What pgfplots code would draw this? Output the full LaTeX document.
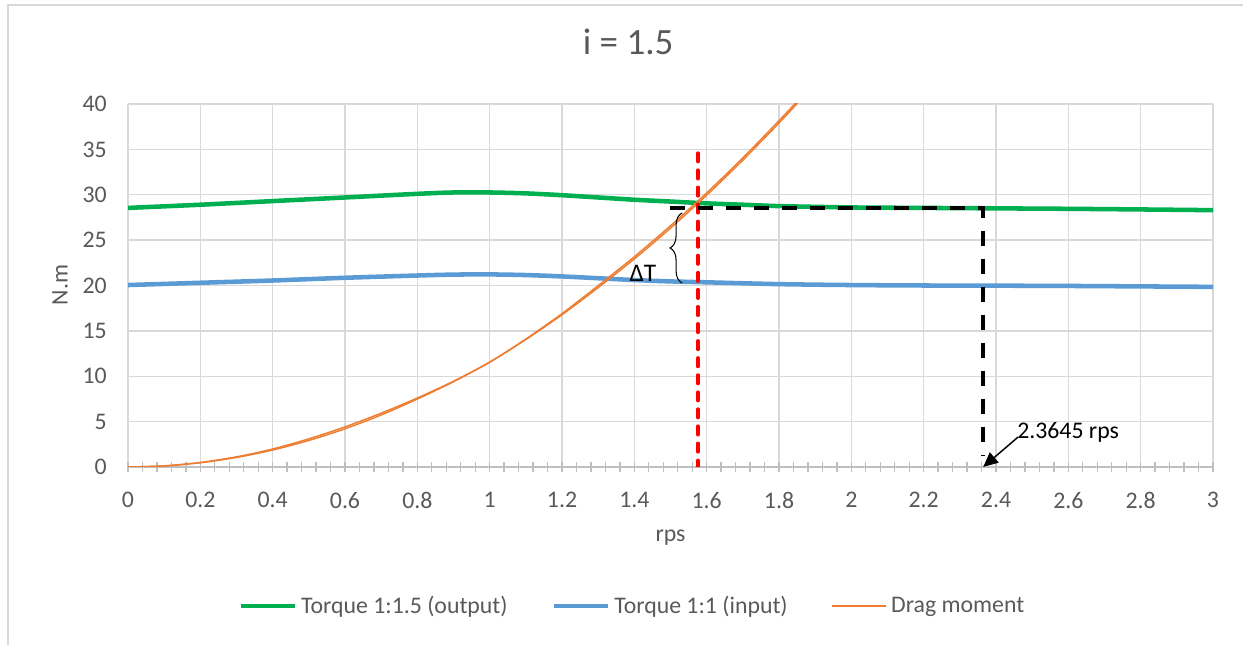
\documentclass[border=0pt]{standalone}
\usepackage{fontspec}
\setmainfont{Carlito}
\usepackage{pgfplots}
\pgfplotsset{compat=1.18}
\usetikzlibrary{arrows.meta,decorations.pathreplacing}
\definecolor{cgreen}{HTML}{00B050}
\definecolor{cblue}{HTML}{5B9BD5}
\definecolor{corange}{HTML}{ED7D31}
\definecolor{cgrid}{HTML}{D9D9D9}
\definecolor{caxis}{HTML}{BFBFBF}
\definecolor{ctext}{HTML}{595959}
\begin{document}
\begin{tikzpicture}
\path[use as bounding box] (0,0) rectangle (932.25pt,483.75pt);
\draw[cgrid, line width=1pt] (6pt,0pt) -- (6pt,480pt) -- (932.25pt,480pt);
\begin{axis}[
  at={(96pt,133.5pt)}, anchor=south west,
  scale only axis, width=813.75pt, height=272.25pt,
  xmin=0, xmax=3, ymin=0, ymax=40,
  axis x line*=bottom, axis y line*=left,
  x axis line style={draw=caxis, line width=1pt, -},
  y axis line style={draw=none, -},
  xtick={0,0.2,0.4,0.6,0.8,1,1.2,1.4,1.6,1.8,2,2.2,2.4,2.6,2.8,3},
  xticklabels={0,0.2,0.4,0.6,0.8,1,1.2,1.4,1.6,1.8,2,2.2,2.4,2.6,2.8,3},
  minor x tick num=4,
  ytick={0,5,10,15,20,25,30,35,40},
  grid=major,
  major grid style={draw=cgrid, line width=1.1pt},
  tick align=center,
  xtick style={draw=caxis, line width=1pt},
  major tick length=7.5pt, minor tick length=7.5pt,
  ytick style={draw=none},
  ticklabel style={font=\fontsize{17.85}{21}\selectfont, text=ctext, inner sep=0pt},
  xticklabel style={anchor=north},
  yticklabel style={anchor=east},
  xticklabel shift=15pt,
  yticklabel shift=12pt,
  /pgf/number format/assume math mode=true,
  xlabel={rps}, ylabel={N.m},
  label style={font=\fontsize{17.85}{21}\selectfont, text=ctext},
  xlabel style={at={(axis description cs:0.5,-0.1956)}, anchor=center},
  ylabel style={at={(axis description cs:-0.0627,0.501)}, anchor=center},
  title={i = 1.5},
  title style={at={(axis description cs:0.461,1.149)}, anchor=center, font=\fontsize{27.8}{32}\selectfont, text=ctext},
  legend columns=3,
  legend style={at={(axis description cs:0.464,-0.383)}, anchor=center, draw=none, fill=none,
    font=\fontsize{17.85}{21}\selectfont, text=ctext,
    nodes={inner sep=0pt},
    /tikz/every odd column/.append style={column sep=3pt},
    /tikz/every even column/.append style={column sep=33pt}},
  legend image code/.code={\draw[#1, line cap=butt] (0pt,0pt) -- (40.5pt,0pt);},
  clip=true,
]
% Torque output
\addplot[cgreen, line width=3.4pt, smooth] coordinates {
 (0,28.55) (0.2,28.9) (0.4,29.3) (0.6,29.7) (0.8,30.1) (0.9,30.25) (1.0,30.25)
 (1.1,30.15) (1.2,29.95) (1.3,29.7) (1.4,29.45) (1.5,29.25) (1.6,29.05) (1.7,28.9)
 (1.8,28.75) (2.0,28.6) (2.2,28.55) (2.4,28.5) (2.6,28.45) (2.8,28.38) (3.0,28.3)};
\addlegendentry{Torque 1:1.5 (output)}
% Torque input
\addplot[cblue, line width=3.4pt, smooth] coordinates {
 (0,20.05) (0.2,20.3) (0.4,20.55) (0.6,20.85) (0.8,21.1) (0.9,21.2) (1.0,21.22)
 (1.1,21.15) (1.2,21.0) (1.3,20.8) (1.4,20.6) (1.5,20.45) (1.6,20.35) (1.8,20.15)
 (2.0,20.05) (2.2,20.0) (2.4,19.98) (2.6,19.95) (2.8,19.9) (3.0,19.85)};
\addlegendentry{Torque 1:1 (input)}
% Drag moment
\addplot[corange, line width=1.1pt, smooth] coordinates {
 (0,0) (0.1,0.117) (0.2,0.468) (0.3,1.053) (0.4,1.872) (0.5,2.925) (0.6,4.212)
 (0.7,5.733) (0.8,7.488) (0.9,9.4) (1.0,11.55) (1.1,14.05) (1.2,16.78)
 (1.3,19.773) (1.4,22.932) (1.5,26.325) (1.6,29.952) (1.7,33.813) (1.8,37.908) (1.86,40.48)};
\addlegendentry{Drag moment}
\addplot[corange, line width=1.1pt, smooth, forget plot] coordinates {
 (0,0) (0.1,0.12) (0.2,0.5) (0.3,1.12) (0.4,1.98) (0.5,3.1) (0.6,4.42)
 (0.7,5.93) (0.8,7.6) (0.9,9.45) (1.0,11.55) (1.1,14.1) (1.2,16.9)
 (1.3,19.98) (1.4,23.17) (1.5,26.58) (1.6,30.2) (1.7,34.06) (1.8,38.16) (1.86,40.7)};
% red dashed vertical
\addplot[red, line width=2.4pt, line cap=round, dash pattern=on 6.6pt off 6.2pt, forget plot] coordinates {(1.576,34.6) (1.576,0)};
% black dashed
\addplot[black, line width=3pt, dash pattern=on 11.25pt off 9.75pt, forget plot] coordinates {(1.499,28.5) (2.3645,28.5) (2.3645,1.2)};
% arrow + label
\draw[black, line width=1.1pt, -{Triangle[length=11pt,width=10pt]}] (axis cs:2.461,3.3) -- (axis cs:2.3645,0);
\node[anchor=west, inner sep=0pt, font=\fontsize{17.85}{21}\selectfont] at (axis cs:2.458,3.86) {2.3645 rps};
% brace + Delta T
\draw[black, line width=0.8pt, decorate, decoration={brace, amplitude=9pt}] (axis cs:1.532,20.28) -- (axis cs:1.532,27.99);
\node[font=\fontsize{19}{22}\selectfont, inner sep=0pt] at (axis cs:1.424,21.38) {ΔT};
\end{axis}
\end{tikzpicture}
\end{document}
